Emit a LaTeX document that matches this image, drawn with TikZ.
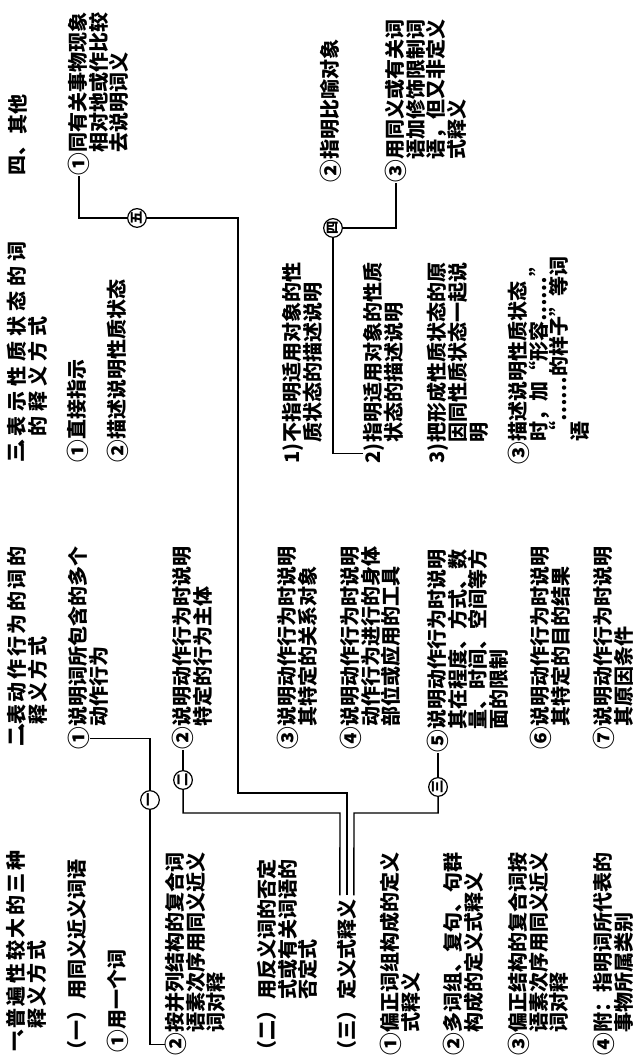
\documentclass[tikz,border=0pt]{standalone}
\usepackage{fontspec}
\setmainfont{Noto Sans CJK SC}
\usetikzlibrary{calc}

\newcommand\entry[5]{%
  \node[lab] (#1) at (#2,#3) {#4};
  \node[txt] (#1t) at (#1.north east) {#5};}
\newcommand\nb[1]{{\fontsize{17}{17}\selectfont#1}}

\begin{document}
\begin{tikzpicture}[x=0.75pt,y=-0.75pt,rotate=90,transform shape,
  lab/.style={anchor=north east,inner sep=0pt,font=\bfseries\fontsize{15}{15.5}\selectfont,execute at begin node={\vphantom{国}}},
  txt/.style={anchor=north west,inner sep=0pt,align=left,font=\bfseries\fontsize{15}{15.5}\selectfont},
  head/.style={txt,font=\bfseries\fontsize{15}{16}\selectfont\addfontfeature{LetterSpace=13}},
  ring/.style={circle,draw,line width=0.9pt,inner sep=0pt,minimum size=14pt,font=\bfseries\fontsize{10}{10}\selectfont},
  link/.style={line width=1.1pt}]
\useasboundingbox (0,0) rectangle (1059,637);

% headings
\node[lab,anchor=north west] (h1) at (7,6) {一\kern-.3em、};
\node[head] (h1t) at (30,6) {普遍性较大的三种\\释义方式};
\node[lab,anchor=north west] (h2) at (312,7) {二\kern-.25em、};
\node[head] (h2t) at (334,7) {表动作行为的词的\\释义方式};
\node[lab,anchor=north west] (h3) at (596,7) {三\kern-.25em、};
\node[head,font=\bfseries\fontsize{15}{16}\selectfont\addfontfeature{LetterSpace=25}] (h3t) at (622,7) {表示性质状态的词\\的释义方式};
\node[lab] (h4) at (924,8) {四、};
\node[txt] (h4t) at (h4.north east) {其他};

% first column
\entry{a0}{59}{67}{（一）}{用同义近义词语}
\entry{a1}{29}{107}{\nb①}{用一个词}
\entry{a2}{26}{165}{\nb②}{按并列结构的复合词\\语素次序用同义近义\\词对释}
\entry{a3}{59}{257}{（二）}{用反义词的否定\\式或有关词语的\\否定式}
\entry{a4}{59}{337}{（三）}{定义式释义}
\entry{a5}{26}{380}{\nb①}{偏正词组构成的定义\\式释义}
\entry{a6}{26}{443}{\nb②}{多词组、复句、句群\\构成的定义式释义}
\entry{a7}{26}{508}{\nb③}{偏正结构的复合词按\\语素次序用同义近义\\词对释}
\entry{a8}{26}{593}{\nb④}{附：指明词所代表的\\事物所属类别}

% second column
\entry{b1}{332}{68}{\nb①}{说明词所包含的多个\\动作行为}
\entry{b2}{332}{172}{\nb②}{说明动作行为时说明\\特定的行为主体}
\entry{b3}{332}{277}{\nb③}{说明动作行为时说明\\其特定的关系对象}
\entry{b4}{332}{340}{\nb④}{说明动作行为时说明\\动作行为进行的身体\\部位或应用的工具}
\entry{b5}{329}{427}{\nb⑤}{说明动作行为时说明\\其在程度、方式、数\\量、时间、空间等方\\面的限制}
\entry{b6}{332}{530}{\nb⑥}{说明动作行为时说明\\其特定的目的结果}
\entry{b7}{332}{593}{\nb⑦}{说明动作行为时说明\\其原因条件}

% third column
\entry{c1}{619}{67}{\nb①}{直接指示}
\entry{c2}{619}{107}{\nb②}{描述说明性质状态}
\entry{c3}{616}{282}{1)}{不指明适用对象的性\\质状态的描述说明}
\entry{c4}{616}{363}{2)}{指明适用对象的性质\\状态的描述说明}
\entry{c5}{616}{427}{3)}{把形成性质状态的原\\因同性质状态一起说\\明}
\entry{c6}{617}{508}{\nb③}{描述说明性质状态\\时，加“形容……”\\“……的样子”等词\\语}

% fourth column
\entry{d1}{906}{68}{\nb①}{同有关事物现象\\相对地或作比较\\去说明词义}
\entry{d2}{899}{320}{\nb②}{指明比喻对象}
\entry{d3}{899}{385}{\nb③}{用同义或有关词\\语加修饰限制词\\语，但又非定义\\式释义}

% cross links
\node[ring] (cA) at (259,150) {一};
\node[ring] (cB) at (279,0 |- b2.west) {二};
\node[ring] (cC) at (272,0 |- b5.west) {三};
\node[ring] (cD) at (831,333) {四};
\node[ring] (cE) at (841,137) {五};
\coordinate (m1) at ($(a4t.east)+(4,-7)$);
\coordinate (m2) at ($(a4t.east)+(4,0)$);
\coordinate (m3) at ($(a4t.east)+(4,7)$);

\draw[link] (b1.south) |- (cA.east);
\draw[link] (cA.west) -| (a2.north);
\draw[link] (b2.west) -- (cB.east);
\draw[link] (cB.west) -| (246,340) -- (m1);
\draw[link] (b5.west) -- (cC.east);
\draw[link] (cC.west) -| (246,354) -- (m3);
\draw[link] (d1.west) -| (cE.north);
\draw[link] (cE.south) |- (266,238) |- (m2);
\draw[link] (d3.west) -| (cD.south);
\draw[link] (cD.west) -| (c4.north);
\end{tikzpicture}
\end{document}
